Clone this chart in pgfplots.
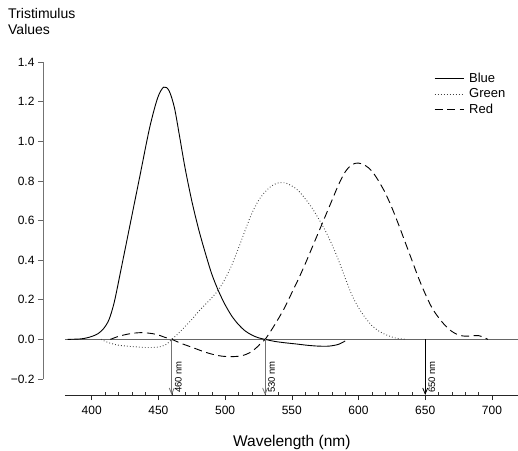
\documentclass[border=0pt]{standalone}
\usepackage{pgfplots}
\pgfplotsset{compat=1.18}
\usepackage{pgfplotstable}
\usepackage{fontspec}
\setmainfont{Liberation Sans}
\usetikzlibrary{arrows.meta}

\pgfplotstableread{
x y
382 0
391 0.002
396 0.007
401 0.017
405 0.03
409 0.055
413 0.1
417 0.19
422.5 0.37
430 0.62
436 0.82
443.5 1.07
449.5 1.22
454 1.273
458 1.255
462 1.17
466 1.02
470 0.865
475 0.70
480 0.56
485 0.44
490 0.33
495 0.245
500 0.175
505 0.118
510 0.075
515 0.043
520 0.022
525 0.008
530 0
537 -0.01
544.7 -0.017
553 -0.023
562 -0.03
570 -0.034
578 -0.034
585 -0.025
590 -0.008
}\blue

\pgfplotstableread{
x y
407 0
412 -0.015
419 -0.028
426 -0.034
433.5 -0.038
441 -0.041
448.5 -0.040
453 -0.034
456 -0.025
460 0
465 0.03
470 0.065
475 0.1
480 0.14
485 0.175
490 0.21
495 0.25
500 0.305
505 0.375
510 0.46
515 0.55
520 0.635
525 0.70
530 0.745
535 0.775
540 0.79
545 0.79
550 0.775
555 0.75
560 0.71
565 0.665
570 0.61
575 0.55
580 0.48
585 0.40
590 0.31
595 0.225
600 0.16
605 0.11
610 0.07
615 0.043
620 0.025
625 0.012
630 0.004
636 0
}\green

\pgfplotstableread{
x y
414 0
421 0.017
430 0.03
438.5 0.034
448 0.026
455 0.01
460 0
467 -0.02
476 -0.042
484 -0.062
491 -0.076
498 -0.085
506 -0.087
513 -0.082
518.5 -0.067
523 -0.045
526 -0.025
530 0
535 0.05
540 0.105
545 0.165
550 0.235
555 0.305
560 0.38
565 0.46
570 0.54
575 0.62
580 0.70
585 0.78
590 0.845
595 0.882
600 0.89
605 0.878
610 0.85
615 0.80
620 0.74
625 0.665
630 0.58
635 0.49
640 0.40
645 0.31
650 0.23
655 0.16
660 0.11
665 0.07
670 0.04
675 0.022
680 0.016
685 0.018
690 0.019
694 0.01
697 0
}\red

\begin{document}
\begin{tikzpicture}
\begin{axis}[
  scale only axis,
  width=453.6pt, height=317pt,
  xmin=380, xmax=720,
  ymin=-0.2, ymax=1.4,
  clip=false,
  axis x line=bottom,
  axis y line=left,
  axis x line shift=16pt,
  axis y line shift=22pt,
  axis line style={-},
  x axis line style={black!85, line width=0.8pt},
  y axis line style={black!55, line width=0.8pt},
  tick align=outside,
  major tick length=5pt,
  minor tick length=3pt,
  xtick={400,450,...,700},
  minor x tick num=4,
  minor x tick style={yshift=3pt, black!80},
  major x tick style={black!85, line width=0.6pt},
  ytick={-0.2,0,0.2,0.4,0.6,0.8,1.0,1.2,1.4},
  yticklabels={−0.2,0.0,0.2,0.4,0.6,0.8,1.0,1.2,1.4},
  major y tick style={black!60, line width=0.6pt},
  /pgf/number format/assume math mode=true,
  xticklabel style={font=\fontsize{12}{14}\selectfont, yshift=-3pt},
  yticklabel style={font=\fontsize{12}{14}\selectfont},
  xlabel={Wavelength (nm)},
  xlabel style={at={(rel axis cs:0.5,0)}, anchor=base, yshift=-67.7pt, font=\fontsize{15.5}{18}\selectfont},
  legend style={draw=none, fill=none, at={(rel axis cs:0.807,0.979)}, anchor=north west,
    font=\fontsize{13}{15}\selectfont, row sep=1pt},
  legend cell align=left,
  legend image code/.code={\draw[#1] (0pt,0pt) -- (29pt,0pt);},
]
\addplot[black!60, line width=0.7pt, forget plot] coordinates {(380,0) (720,0)};
\addplot[black, line width=0.9pt, smooth] table[x=x,y=y] {\blue};
\addlegendentry{\hspace{3pt}Blue}
\addplot[black!75, line width=0.9pt, dash pattern=on 0.8pt off 2.2pt, smooth] table[x=x,y=y] {\green};
\addlegendentry{\hspace{3pt}Green}
\addplot[black, line width=0.9pt, dash pattern=on 8pt off 4.5pt, smooth] table[x=x,y=y] {\red};
\addlegendentry{\hspace{3pt}Red}

\draw[black!55, line width=0.8pt, -{Straight Barb[length=6pt,width=5pt]}] (axis cs:460,0) -- (axis cs:460,-0.2806);
\draw[black!55, line width=0.8pt, -{Straight Barb[length=6pt,width=5pt]}] (axis cs:530,0) -- (axis cs:530,-0.2806);
\draw[black, line width=0.8pt, -{Straight Barb[length=6pt,width=5pt]}] (axis cs:650,0) -- (axis cs:650,-0.2806);
\node[rotate=90, anchor=north west, inner sep=0pt, font=\fontsize{9.5}{10}\selectfont] at ([xshift=3pt,yshift=2pt]axis cs:460,-0.2806) {460 nm};
\node[rotate=90, anchor=north west, inner sep=0pt, font=\fontsize{9.5}{10}\selectfont] at ([xshift=3pt,yshift=2pt]axis cs:530,-0.2806) {530 nm};
\node[rotate=90, anchor=north west, inner sep=0pt, font=\fontsize{9.5}{10}\selectfont] at ([xshift=3pt,yshift=2pt]axis cs:650,-0.2806) {650 nm};

\node[anchor=base west, inner sep=0pt, font=\fontsize{14}{16}\selectfont] at ([xshift=-57pt,yshift=43.7pt]rel axis cs:0,1) {Tristimulus};
\node[anchor=base west, inner sep=0pt, font=\fontsize{14}{16}\selectfont] at ([xshift=-57pt,yshift=27.7pt]rel axis cs:0,1) {Values};
\coordinate (bl) at (rel axis cs:0,0);
\end{axis}
\pgfresetboundingbox
\useasboundingbox ([shift={(-65pt,-71pt)}]bl) rectangle ([shift={(453pt,379pt)}]bl);
\end{tikzpicture}
\end{document}
